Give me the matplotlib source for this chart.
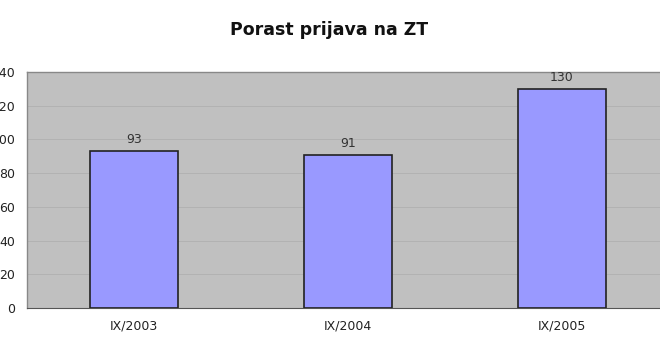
import matplotlib
matplotlib.use("Agg")
import matplotlib.pyplot as plt

categories = ["IX/2003", "IX/2004", "IX/2005"]
values = [93, 91, 130]
yticks = [0, 20, 40, 60, 80, 100, 120, 140]
title = "Porast prijava na ZT"

W, H = 660, 362
fig = plt.figure(figsize=(W / 100, H / 100), dpi=100)
left, right, top, bottom = 27, 669, 72, 308
ax = fig.add_axes([left / W, 1 - bottom / H, (right - left) / W, (bottom - top) / H])

ax.set_facecolor("#C0C0C0")
x = list(range(len(categories)))
ax.set_axisbelow(True)
ax.yaxis.grid(True, color="#B2B2B2", linewidth=0.7)
bars = ax.bar(x, values, width=0.41, color="#9999FF", edgecolor="#222222", linewidth=1.2, zorder=3)
for xi, v in zip(x, values):
    ax.text(xi, v + 3, str(v), ha="center", va="bottom", fontsize=9, color="#333333")

ax.set_xlim(-0.5, 2.5)
ax.set_ylim(0, 140)
ax.set_yticks(yticks)
ax.set_yticklabels([str(t) for t in yticks], fontsize=9)
ax.set_xticks(x)
ax.set_xticklabels(categories, fontsize=9)
ax.tick_params(axis="both", length=0, colors="#222222")
ax.tick_params(axis="y", pad=8.5)
ax.tick_params(axis="x", pad=8)

for s in ["top", "left"]:
    ax.spines[s].set_color("#888888")
    ax.spines[s].set_linewidth(1.0)
ax.spines["bottom"].set_color("#555555")
ax.spines["right"].set_visible(False)

fig.text(329 / W, 1 - 30 / H, title, ha="center", va="center", fontsize=12.5, fontweight="bold",
         color="#111111")

fig.savefig("out.png", dpi=100)
